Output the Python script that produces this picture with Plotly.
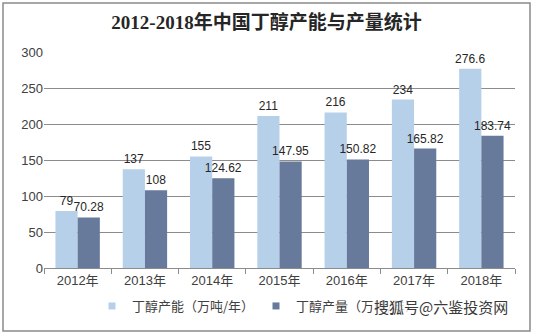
import plotly.graph_objects as go

years = ["2012年", "2013年", "2014年", "2015年", "2016年", "2017年", "2018年"]
capacity = [79, 137, 155, 211, 216, 234, 276.6]
output = [70.28, 108, 124.62, 147.95, 150.82, 165.82, 183.74]
capacity_labels = ["79", "137", "155", "211", "216", "234", "276.6"]
output_labels = ["70.28", "108", "124.62", "147.95", "150.82", "165.82", "183.74"]
y_ticks = [0, 50, 100, 150, 200, 250, 300]

series_names = ["丁醇产能（万吨/年）", "丁醇产量（万吨/年）"]
series_colors = ["#B7D0EA", "#687A9C"]

label_font = dict(family="Liberation Sans, Arial, sans-serif", size=12, color="#262626")
px_w, px_h = 471, 216

fig = go.Figure()
for vals, labels, name, color in [
    (capacity, capacity_labels, series_names[0], series_colors[0]),
    (output, output_labels, series_names[1], series_colors[1]),
]:
    fig.add_trace(go.Bar(
        x=years, y=vals, name=name, showlegend=False,
        marker=dict(color=color, line=dict(width=0)),
        text=labels, textposition="outside", textfont=label_font,
        constraintext="none", cliponaxis=False,
    ))

# small square legend keys, one legend box per series
for name, color, lg in zip(series_names, series_colors, ["legend", "legend2"]):
    fig.add_trace(go.Scatter(
        x=[None], y=[None], mode="markers", name=name, legend=lg,
        marker=dict(symbol="square", size=7, color=color),
    ))

# outer frame of the chart
fig.add_shape(
    type="rect", xref="paper", yref="paper",
    x0=(3 - 44) / px_w, x1=(530 - 44) / px_w,
    y0=(268 - 331) / px_h, y1=(268 - 3) / px_h,
    line=dict(color="#8a8a8a", width=1.5), fillcolor="rgba(0,0,0,0)", layer="below",
)

fig.add_annotation(
    text="搜狐号@六鉴投资网", xref="paper", yref="paper",
    x=(441 - 44) / px_w, y=(268 - 306) / px_h, xanchor="center", yanchor="middle",
    showarrow=False, font=dict(family="Noto Sans CJK SC", size=15, color="#3a3a3a"),
    bgcolor="rgba(255,255,255,0.8)",
)

legend_style = dict(
    orientation="h", xref="paper", yref="paper",
    y=(268 - 306) / px_h, xanchor="left", yanchor="middle",
    font=dict(family="Noto Sans CJK SC", size=13, color="#404040"),
    bgcolor="rgba(0,0,0,0)",
)

fig.update_layout(
    width=533, height=335,
    margin=dict(l=44, r=18, t=52, b=67),
    paper_bgcolor="white", plot_bgcolor="white",
    barmode="group", bargap=0.34, bargroupgap=0,
    title=dict(
        text="<b>2012-2018年中国丁醇产能与产量统计</b>",
        x=0.5, xanchor="center", y=1 - 22 / 335, yanchor="middle",
        font=dict(family="Liberation Serif, Noto Sans CJK SC", size=19, color="#262626"),
    ),
    font=dict(family="Noto Sans CJK SC, Liberation Sans", size=13, color="#404040"),
    xaxis=dict(
        showline=True, linecolor="#8c8c8c", linewidth=1,
        ticks="outside", tickson="boundaries", ticklen=5, tickcolor="#8c8c8c",
        tickfont=dict(family="Liberation Sans, Noto Sans CJK SC", size=13, color="#404040"),
        showgrid=False,
    ),
    yaxis=dict(
        range=[0, 300], tickvals=y_ticks, showgrid=True, gridcolor="#8c8c8c", gridwidth=1,
        zeroline=False, showline=False, ticks="",
        tickfont=dict(family="Liberation Sans, Arial", size=13, color="#404040"),
    ),
    legend=dict(legend_style, x=(92 - 44) / px_w),
    legend2=dict(legend_style, x=(256 - 44) / px_w),
)

fig.write_html("out.html")
